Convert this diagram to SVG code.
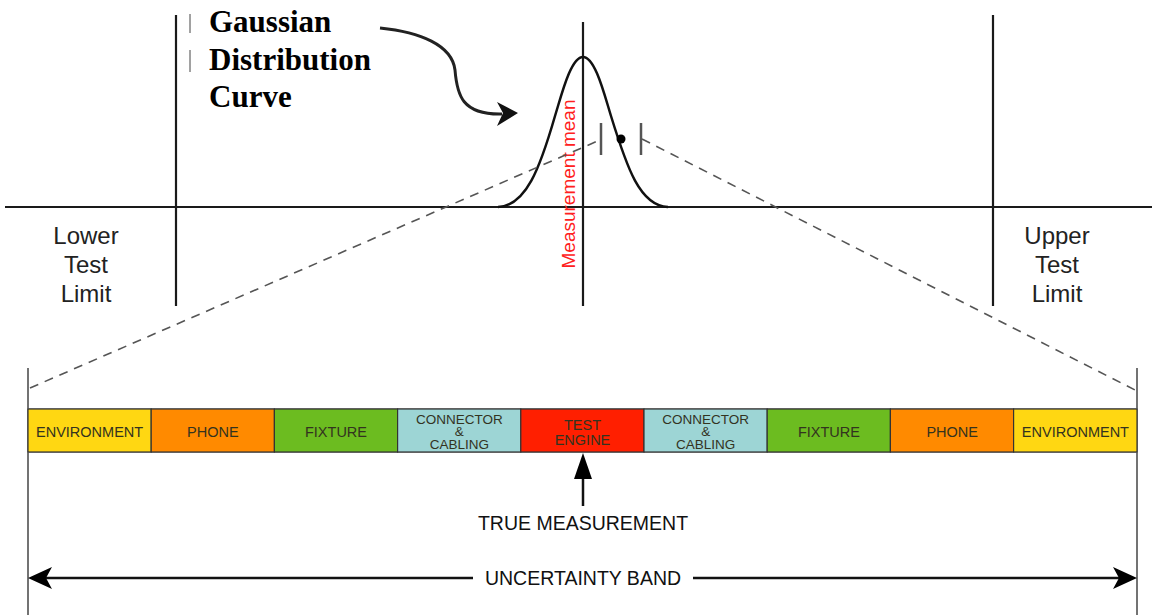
<svg xmlns="http://www.w3.org/2000/svg" width="1152" height="615" viewBox="0 0 1152 615">
<style>
.ax{stroke:#1a1a1a;stroke-width:2.2;fill:none}
.dash{stroke:#555;stroke-width:1.6;stroke-dasharray:9 7;fill:none}
.lbl{font-family:"Liberation Sans",Arial,sans-serif;font-size:24px;fill:#222;text-anchor:middle}
.ttl{font-family:"Liberation Serif","Times New Roman",serif;font-size:31px;font-weight:bold;fill:#000}
.seg{stroke:#333;stroke-width:1.2}
.st{font-family:"Liberation Sans",Arial,sans-serif;font-size:14.5px;fill:#33331f;text-anchor:middle}
.sm{font-family:"Liberation Sans",Arial,sans-serif;font-size:13.5px;fill:#33331f;text-anchor:middle}
.big{font-family:"Liberation Sans",Arial,sans-serif;font-size:19.5px;fill:#111;text-anchor:middle}
</style>
<rect width="1152" height="615" fill="#fff"/>
<g id="axes">
<line class="ax" x1="5" y1="207" x2="1152" y2="207"/>
<line class="ax" x1="176" y1="15" x2="176" y2="306"/>
<line class="ax" x1="583" y1="22" x2="583" y2="306"/>
<line class="ax" x1="993" y1="15" x2="993" y2="306"/>
<line x1="190" y1="14" x2="190" y2="33" stroke="#444" stroke-width="1"/>
<line x1="190" y1="50" x2="190" y2="72" stroke="#444" stroke-width="1"/>
</g>
<g id="gaussian">
<path d="M498,207 C526,206 540,168 555,116 C562,93.25 571,57 583,57 C595,57 604,93.25 611,116 C627,168 640,206 668,207" fill="none" stroke="#111" stroke-width="2.5"/>
<line x1="601" y1="123" x2="601" y2="155" stroke="#555" stroke-width="2.5"/>
<line x1="641" y1="123" x2="641" y2="155" stroke="#555" stroke-width="2.5"/>
<circle cx="621" cy="139" r="4.5" fill="#000"/>
<text transform="translate(575,184) rotate(-90)" font-family="Liberation Sans, Arial, sans-serif" font-size="19" fill="#ff2020" text-anchor="middle">Measurement mean</text>
</g>
<g id="title">
<text class="ttl" x="209" y="32">Gaussian</text>
<text class="ttl" x="209" y="70">Distribution</text>
<text class="ttl" x="209" y="107">Curve</text>
</g>
<g id="lower-limit">
<text class="lbl" x="86" y="244">Lower</text>
<text class="lbl" x="86" y="273">Test</text>
<text class="lbl" x="86" y="302">Limit</text>
</g>
<g id="upper-limit">
<text class="lbl" x="1057" y="244">Upper</text>
<text class="lbl" x="1057" y="273">Test</text>
<text class="lbl" x="1057" y="302">Limit</text>
</g>
<g id="connectors">
<path d="M380,28 C420,32 452,45 455,70 C457,95 462,115 502,114" fill="none" stroke="#222" stroke-width="3"/>
<polygon points="518,113 497,102 503,113 497,126" fill="#111"/>
<line class="dash" x1="30" y1="388" x2="600" y2="140"/>
<line class="dash" x1="642" y1="139" x2="1135" y2="390"/>
<line x1="28" y1="368" x2="28" y2="615" stroke="#444" stroke-width="1.5"/>
<line x1="1137" y1="368" x2="1137" y2="615" stroke="#444" stroke-width="1.5"/>
<line x1="583" y1="506" x2="583" y2="474" stroke="#111" stroke-width="2.5"/>
<polygon points="583,453 574,479 592,479" fill="#000"/>
<line x1="46" y1="578" x2="473" y2="578" stroke="#111" stroke-width="2.5"/>
<line x1="693" y1="578" x2="1119" y2="578" stroke="#111" stroke-width="2.5"/>
<polygon points="28,578 52,567 46,578 52,589" fill="#000"/>
<polygon points="1137,578 1113,567 1119,578 1113,589" fill="#000"/>
</g>
<g id="band">
<rect x="28" y="409" width="1109" height="43" fill="#fff" stroke="#888" stroke-width="1.5"/>
<g id="seg-env-left"><rect class="seg" x="28" y="409" width="123.2" height="43" fill="#ffd712"/><text class="st" x="89.6" y="437">ENVIRONMENT</text></g>
<g id="seg-phone-left"><rect class="seg" x="151.2" y="409" width="123.2" height="43" fill="#ff8a00"/><text class="st" x="212.8" y="437">PHONE</text></g>
<g id="seg-fixture-left"><rect class="seg" x="274.4" y="409" width="123.2" height="43" fill="#6cbc20"/><text class="st" x="336" y="437">FIXTURE</text></g>
<g id="seg-conn-left"><rect class="seg" x="397.6" y="409" width="123.2" height="43" fill="#9dd5d5"/><text class="sm" x="459.3" y="424">CONNECTOR</text><text class="sm" x="459.3" y="435.5" font-size="8.5">&amp;</text><text class="sm" x="459.3" y="449">CABLING</text></g>
<g id="seg-test-engine"><rect class="seg" x="520.8" y="409" width="123.2" height="43" fill="#ff1f00"/><text class="st" x="582.5" y="430" fill="#6a1410">TEST</text><text class="st" x="582.5" y="445" fill="#6a1410">ENGINE</text></g>
<g id="seg-conn-right"><rect class="seg" x="644" y="409" width="123.2" height="43" fill="#9dd5d5"/><text class="sm" x="705.7" y="424">CONNECTOR</text><text class="sm" x="705.7" y="435.5" font-size="8.5">&amp;</text><text class="sm" x="705.7" y="449">CABLING</text></g>
<g id="seg-fixture-right"><rect class="seg" x="767.2" y="409" width="123.2" height="43" fill="#6cbc20"/><text class="st" x="828.9" y="437">FIXTURE</text></g>
<g id="seg-phone-right"><rect class="seg" x="890.4" y="409" width="123.2" height="43" fill="#ff8a00"/><text class="st" x="952.2" y="437">PHONE</text></g>
<g id="seg-env-right"><rect class="seg" x="1013.6" y="409" width="123.4" height="43" fill="#ffd712"/><text class="st" x="1075.4" y="437">ENVIRONMENT</text></g>
</g>
<g id="true-measurement"><text class="big" x="583" y="530">TRUE MEASUREMENT</text></g>
<g id="uncertainty-band"><text class="big" x="583" y="585">UNCERTAINTY BAND</text></g>
</svg>
